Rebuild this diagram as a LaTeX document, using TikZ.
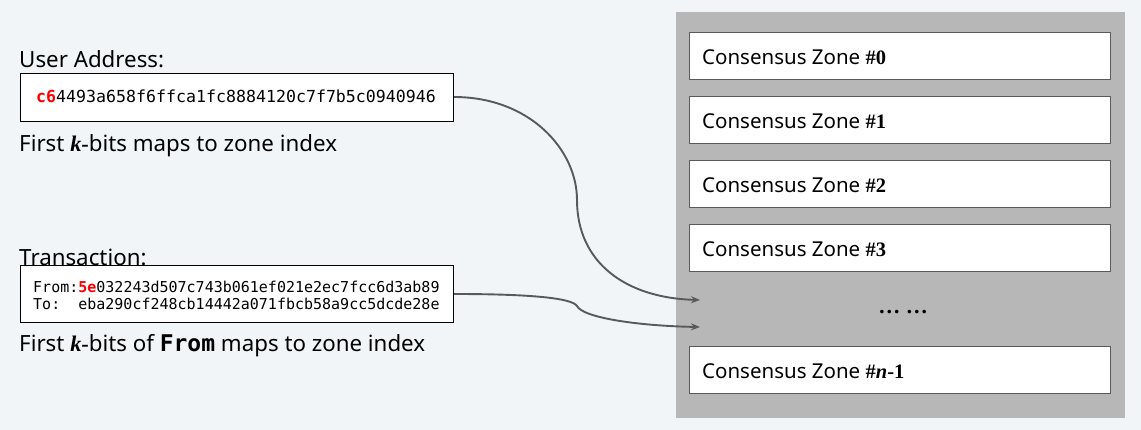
\documentclass[tikz,border=0pt]{standalone}
\usepackage{fontspec}
\setmainfont{Noto Sans}
\setmonofont{DejaVu Sans Mono}
\newfontfamily\serifb{Liberation Serif}
\usetikzlibrary{arrows.meta}
\definecolor{bg}{HTML}{F2F5F8}
\definecolor{panel}{HTML}{B7B7B7}
\definecolor{arrowc}{HTML}{595959}
\definecolor{hexred}{HTML}{FF0000}
\tikzset{
  zonebox/.style={draw=black!65, line width=1pt, fill=white, minimum width=421pt, minimum height=47pt, inner sep=0pt},
  zonelabel/.style={anchor=west, font=\fontsize{20.5}{24}\selectfont, inner sep=0pt},
  addrbox/.style={draw=black, line width=1pt, fill=white, inner sep=0pt, anchor=north west},
  caption/.style={anchor=base west, font=\fontsize{22.3}{26}\selectfont, inner sep=0pt},
  hexline/.style={anchor=base west, inner sep=0pt, font=\ttfamily\fontsize{15}{17}\selectfont},
  link/.style={draw=arrowc, line width=1.9pt, -{Stealth[length=9pt,width=7pt,inset=3pt]}},
}
\newcommand{\zn}[1]{{\serifb\bfseries #1}}
\begin{document}
\begin{tikzpicture}[x=1pt,y=-1pt]
\useasboundingbox (0,0) rectangle (1141,430);
\fill[bg] (0,0) rectangle (1141,430);
% panel
\fill[panel] (676,12) rectangle (1125,418);
% zones
\node[zonebox] (z0) at (899.5,56.5) {};
\node[zonebox] (z1) at (899.5,120.5) {};
\node[zonebox] (z2) at (899.5,184.5) {};
\node[zonebox] (z3) at (899.5,248.5) {};
\node[zonebox] (zn) at (899.5,370) {};
\node[zonelabel] (l0) at (702,57.5) {Consensus Zone \zn{\#0}};
\node[zonelabel] (l1) at (702,121.5) {Consensus Zone \zn{\#1}};
\node[zonelabel] (l2) at (702,185.5) {Consensus Zone \zn{\#2}};
\node[zonelabel] (l3) at (702,249.5) {Consensus Zone \zn{\#3}};
\node[zonelabel] (ln) at (702,371) {Consensus Zone \zn{\#\textit{n}-1}};
\node[anchor=base, inner sep=0pt, font=\fontsize{22}{24}\selectfont] (dots) at (903,314) {\zn{\dots\ \dots}};
% user address
\node[caption] (uat) at (19,68) {User Address:};
\node[addrbox, minimum width=433pt, minimum height=48pt] (ua) at (20,73) {};
\node[anchor=base west, inner sep=0pt, font=\ttfamily\fontsize{16.6}{20}\selectfont] (uah) at (36,103)
  {\textcolor{hexred}{\bfseries c6}4493a658f6ffca1fc8884120c7f7b5c0940946};
\node[caption] (uac) at (19,152) {First \zn{\textit{k}-}bits maps to zone index};
% transaction
\node[caption] (txt) at (19,266) {Transaction:};
\node[addrbox, minimum width=433pt, minimum height=57pt] (tx) at (20,265) {};
\node[hexline] (txf) at (33,293)
  {From:\textcolor{hexred}{\bfseries 5e}032243d507c743b061ef021e2ec7fcc6d3ab89};
\node[hexline] (txto) at (33,310)
  {To:\ \ eba290cf248cb14442a071fbcb58a9cc5dcde28e};
\node[caption] (txc) at (19,352) {First \zn{\textit{k}-}bits of {\ttfamily\bfseries\fontsize{23}{26}\selectfont From} maps to zone index};
% arrows
\coordinate (e1) at (700,300);
\coordinate (e2) at (700,327);
\draw[link] (ua.east |- 0,97) .. controls (530,97) and (577,150) .. (577,200)
  .. controls (577,262) and (625,298) .. (e1);
\draw[link] (tx.east |- 0,294) .. controls (530,294) and (572,298) .. (577,306)
  .. controls (583,318) and (640,326) .. (e2);
\end{tikzpicture}
\end{document}
